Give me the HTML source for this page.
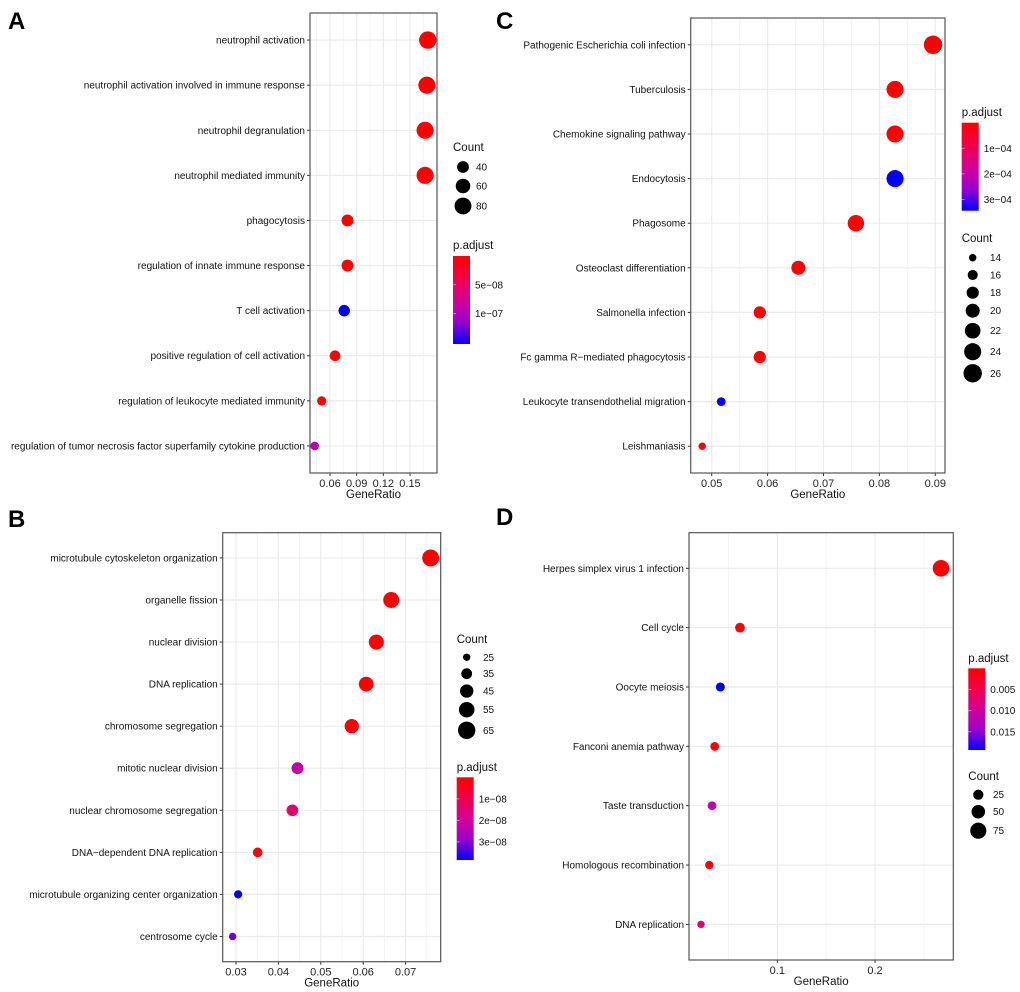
<!DOCTYPE html>
<html><head><meta charset="utf-8">
<style>
html,body{margin:0;padding:0;background:#fff;}
svg{display:block;font-family:"Liberation Sans",Arial,sans-serif;}
</style></head>
<body>
<svg id="fig" width="1020" height="992" viewBox="0 0 1020 992">
<defs>
<linearGradient id="grad" x1="0" y1="0" x2="0" y2="1">
<stop offset="0" stop-color="#FF0000"/><stop offset="0.25" stop-color="#F00048"/>
<stop offset="0.5" stop-color="#D40098"/><stop offset="0.75" stop-color="#9A00CC"/>
<stop offset="1" stop-color="#0000FF"/></linearGradient>
</defs>
</svg>
<script>
// ---- Panel A data ----
const catsA = ["neutrophil activation","neutrophil activation involved in immune response","neutrophil degranulation","neutrophil mediated immunity","phagocytosis","regulation of innate immune response","T cell activation","positive regulation of cell activation","regulation of leukocyte mediated immunity","regulation of tumor necrosis factor superfamily cytokine production"];
const ratioA = [0.170,0.169,0.167,0.167,0.0796,0.0796,0.076,0.0657,0.0506,0.0428];
const countA = [85,82,82,82,40,40,38,33,25,22];
const padjA = [1e-10,1e-10,1e-10,1e-10,2e-9,2e-9,1.52e-7,3e-9,5e-9,9e-8];
const ticksA = [0.06,0.09,0.12,0.15];
const tickLabelsA = ["0.06","0.09","0.12","0.15"];
const sizeBreaksA = [40,60,80];
const colorBreaksA = [5e-8,1e-7];
const colorLabelsA = ["5e\u221208","1e\u221207"];
// ---- Panel B data ----
const catsB = ["microtubule cytoskeleton organization","organelle fission","nuclear division","DNA replication","chromosome segregation","mitotic nuclear division","nuclear chromosome segregation","DNA\u2212dependent DNA replication","microtubule organizing center organization","centrosome cycle"];
const ratioB = [0.0759,0.0666,0.0631,0.0607,0.0573,0.0445,0.0433,0.0351,0.0305,0.0292];
const countB = [62,57,53,51,49,39,38,31,27,25];
const padjB = [1e-10,1e-10,1e-10,1e-10,1e-10,2.2e-8,1.4e-8,1e-10,3.8e-8,3.2e-8];
const ticksB = [0.03,0.04,0.05,0.06,0.07];
const tickLabelsB = ["0.03","0.04","0.05","0.06","0.07"];
const sizeBreaksB = [25,35,45,55,65];
const colorBreaksB = [1e-8,2e-8,3e-8];
const colorLabelsB = ["1e\u221208","2e\u221208","3e\u221208"];
// ---- Panel C data ----
const catsC = ["Pathogenic Escherichia coli infection","Tuberculosis","Chemokine signaling pathway","Endocytosis","Phagosome","Osteoclast differentiation","Salmonella infection","Fc gamma R\u2212mediated phagocytosis","Leukocyte transendothelial migration","Leishmaniasis"];
const ratioC = [0.0896,0.0828,0.0828,0.0828,0.0758,0.0655,0.0586,0.0586,0.0517,0.0483];
const countC = [26,24,24,24,23,20,18,18,15,14];
const padjC = [1e-6,1e-6,1e-6,3.44e-4,1e-6,1e-6,1e-6,1e-6,3.4e-4,1e-6];
const ticksC = [0.05,0.06,0.07,0.08,0.09];
const tickLabelsC = ["0.05","0.06","0.07","0.08","0.09"];
const sizeBreaksC = [14,16,18,20,22,24,26];
const colorBreaksC = [1e-4,2e-4,3e-4];
const colorLabelsC = ["1e\u221204","2e\u221204","3e\u221204"];
// ---- Panel D data ----
const catsD = ["Herpes simplex virus 1 infection","Cell cycle","Oocyte meiosis","Fanconi anemia pathway","Taste transduction","Homologous recombination","DNA replication"];
const ratioD = [0.2675,0.0618,0.0417,0.0359,0.0332,0.0304,0.0219];
const countD = [80,22,18,16,16,14,9];
const padjD = [1e-5,1e-4,0.0193,5e-4,0.0115,5e-4,0.0075];
const ticksD = [0.1,0.2];
const tickLabelsD = ["0.1","0.2"];
const sizeBreaksD = [25,50,75];
const colorBreaksD = [0.005,0.010,0.015];
const colorLabelsD = ["0.005","0.010","0.015"];

const NS="http://www.w3.org/2000/svg";
const svg=document.getElementById('fig');
function mk(tag,attrs,parent){const e=document.createElementNS(NS,tag);for(const k in attrs)e.setAttribute(k,attrs[k]);(parent||svg).appendChild(e);return e;}
const stops=[[0,[255,0,0]],[0.25,[240,0,72]],[0.5,[212,0,152]],[0.75,[154,0,204]],[1,[0,0,255]]];
function colorAt(t){t=Math.max(0,Math.min(1,t));for(let i=0;i<stops.length-1;i++){const a=stops[i],b=stops[i+1];if(t<=b[0]){const f=(t-a[0])/(b[0]-a[0]);const c=a[1].map((v,j)=>Math.round(v+(b[1][j]-v)*f));return `rgb(${c[0]},${c[1]},${c[2]})`;}}return 'rgb(0,0,255)';}

function panel(P){
  const g=mk('g',{});
  
  
  const xs=v=>P.bx0+(v-P.dmin)/(P.dmax-P.dmin)*(P.bx1-P.bx0);
  const n=P.cats.length, h=P.by1-P.by0, step=h/(n-1+1.2);
  const ys=i=>P.by0+(0.6+i)*step;
  const rs=c=>Math.sqrt(Math.max(1,P.rmin*P.rmin+(c-P.cmin)/(P.cmax-P.cmin)*(P.rmax*P.rmax-P.rmin*P.rmin)));
  const cs=p=>colorAt((p-P.pmin)/(P.pmax-P.pmin));
  const lt=mk('text',{x:P.lx,y:P.ly,'font-size':24,'font-weight':'bold',fill:'#000'},g);lt.textContent=P.id;
  
  
  const tstep=P.ticks.length>1?P.ticks[1]-P.ticks[0]:0.1;
  for(let v=P.ticks[0]-tstep/2;v<=P.dmax;v+=tstep){if(v<P.dmin)continue;const l=mk('line',{x1:xs(v),x2:xs(v),y1:P.by0,y2:P.by1,stroke:'#F3F3F3','stroke-width':1},g);
    
    }
  P.ticks.forEach((v,i)=>{const l=mk('line',{x1:xs(v),x2:xs(v),y1:P.by0,y2:P.by1,stroke:'#EBEBEB','stroke-width':1.2},g);
    
    
    const tk=mk('line',{x1:xs(v),x2:xs(v),y1:P.by1,y2:P.by1+3,stroke:'#333','stroke-width':1},g);
    
    
    const t=mk('text',{x:xs(v),y:P.by1+14,'font-size':11,'text-anchor':'middle',fill:'#222'},g);t.textContent=P.tickLabels[i];
    
    });
  P.cats.forEach((c,i)=>{const y=ys(i);
    const l=mk('line',{x1:P.bx0,x2:P.bx1,y1:y,y2:y,stroke:'#EBEBEB','stroke-width':1.2},g);
    
    
    const tk=mk('line',{x1:P.bx0-3,x2:P.bx0,y1:y,y2:y,stroke:'#333','stroke-width':1},g);
    
    
    const t=mk('text',{x:P.bx0-5,y:y+3.5,'font-size':10,'text-anchor':'end',fill:'#111'},g);t.textContent=c;
    
    });
  const br=mk('rect',{x:P.bx0,y:P.by0,width:P.bx1-P.bx0,height:P.by1-P.by0,fill:'none',stroke:'#555','stroke-width':1.2},g);
  
  
  P.cats.forEach((c,i)=>{const d=mk('circle',{cx:xs(P.ratio[i]),cy:ys(i),r:rs(P.count[i]),fill:cs(P.padj[i])},g);
    
    });
  const xt=mk('text',{x:(P.bx0+P.bx1)/2,y:P.by1+25,'font-size':11.5,'text-anchor':'middle',fill:'#111'},g);xt.textContent='GeneRatio';
  
  
  const st=mk('text',{x:P.legX,y:P.sizeTitleY,'font-size':11.5,fill:'#111'},g);st.textContent='Count';
  
  
  P.sizeBreaks.forEach((c,i)=>{const y=P.sizeYs[i];
    const d=mk('circle',{cx:P.sizeCx,cy:y,r:rs(c),fill:'#000'},g);
    
    
    const t=mk('text',{x:P.sizeLabX,y:y+3.5,'font-size':10,fill:'#111'},g);t.textContent=c;
    
    });
  const ct=mk('text',{x:P.legX,y:P.colTitleY,'font-size':11.5,fill:'#111'},g);ct.textContent='p.adjust';
  
  
  const bar=mk('rect',{x:P.legX,y:P.barY0,width:17,height:P.barY1-P.barY0,fill:'url(#grad)'},g);
  
  
  P.colorBreaks.forEach((v,i)=>{const y=P.barY0+(v-P.pmin)/(P.pmax-P.pmin)*(P.barY1-P.barY0);
    const t=mk('text',{x:P.legX+22,y:y+3.5,'font-size':10,fill:'#111'},g);t.textContent=P.colorLabels[i];
    
    
    const l=mk('line',{x1:P.legX,x2:P.legX+3,y1:y,y2:y,stroke:'#fff','stroke-width':0.8,opacity:0.6},g);
    
    });
}

panel({id:'A',cats:catsA,ratio:ratioA,count:countA,padj:padjA,ticks:ticksA,tickLabels:tickLabelsA,
  lx:8,ly:29,bx0:310,bx1:437,by0:13,by1:473,dmin:0.0375,dmax:0.1804,
  cmin:22,cmax:85,rmin:4.3,rmax:8.7,pmin:0,pmax:1.53e-7,
  legX:453,sizeTitleY:151,sizeBreaks:sizeBreaksA,sizeYs:[167,186,206],sizeCx:463,sizeLabX:476,
  colTitleY:249,barY0:256,barY1:344,colorBreaks:colorBreaksA,colorLabels:colorLabelsA});
panel({id:'B',cats:catsB,ratio:ratioB,count:countB,padj:padjB,ticks:ticksB,tickLabels:tickLabelsB,
  lx:8,ly:527,bx0:222.7,bx1:440.7,by0:532.7,by1:961.7,dmin:0.02686,dmax:0.07828,
  cmin:25,cmax:65,rmin:3.7,rmax:8.7,pmin:0,pmax:3.84e-8,
  legX:456.7,sizeTitleY:643,sizeBreaks:sizeBreaksB,sizeYs:[657.3,673.7,691,709.7,730.3],sizeCx:466.7,sizeLabX:483,
  colTitleY:771,barY0:777.3,barY1:860,colorBreaks:colorBreaksB,colorLabels:colorLabelsB});
panel({id:'C',cats:catsC,ratio:ratioC,count:countC,padj:padjC,ticks:ticksC,tickLabels:tickLabelsC,
  lx:496,ly:29,bx0:690.7,bx1:945,by0:18,by1:473,dmin:0.04624,dmax:0.09174,
  cmin:14,cmax:26,rmin:3.7,rmax:9.2,pmin:0,pmax:3.44e-4,
  legX:961.7,sizeTitleY:242,sizeBreaks:sizeBreaksC,sizeYs:[257.7,275,292.7,310.7,330.7,351.7,373.3],sizeCx:972.7,sizeLabX:990,
  colTitleY:116,barY0:122.7,barY1:210.7,colorBreaks:colorBreaksC,colorLabels:colorLabelsC});
panel({id:'D',cats:catsD,ratio:ratioD,count:countD,padj:padjD,ticks:ticksD,tickLabels:tickLabelsD,
  lx:496,ly:525,bx0:689,bx1:953.3,by0:532.7,by1:960,dmin:0.00962,dmax:0.2801,
  cmin:9,cmax:80,rmin:3.7,rmax:8.3,pmin:0,pmax:0.0193,
  legX:968.3,sizeTitleY:780,sizeBreaks:sizeBreaksD,sizeYs:[794.7,811.7,830.7],sizeCx:978.3,sizeLabX:993,
  colTitleY:662,barY0:668.3,barY1:750,colorBreaks:colorBreaksD,colorLabels:colorLabelsD});
</script>
</body></html>
